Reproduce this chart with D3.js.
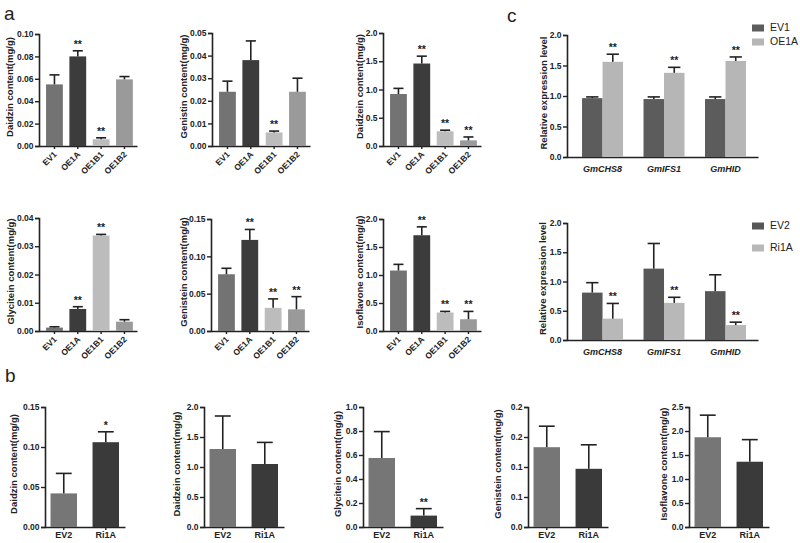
<!DOCTYPE html>
<html><head><meta charset="utf-8">
<script src="https://cdn.jsdelivr.net/npm/d3@7"></script>
<style>
body{margin:0;background:#fff;}
svg{display:block;}
text{font-family:"Liberation Sans",Arial,sans-serif;}
</style>
</head><body>
<svg id="chart" width="800" height="543"></svg>
<script>
// ---------------- DATA ----------------
// Panel a: overexpression lines
const aCategories = ["EV1", "OE1A", "OE1B1", "OE1B2"];
const daidzinA = [0.055, 0.080, 0.006, 0.0595];
const daidzinAErr = [0.0085, 0.005, 0.0013, 0.0025];
const daidzinASig = ["", "**", "**", ""];
const genistinA = [0.024, 0.038, 0.006, 0.024];
const genistinAErr = [0.0047, 0.0085, 0.0006, 0.006];
const genistinASig = ["", "", "**", ""];
const daidzeinA = [0.92, 1.46, 0.26, 0.10];
const daidzeinAErr = [0.10, 0.13, 0.02, 0.06];
const daidzeinASig = ["", "**", "**", "**"];
const glyciteinA = [0.0012, 0.0078, 0.0338, 0.0033];
const glyciteinAErr = [0.0003, 0.0008, 0.0004, 0.0007];
const glyciteinASig = ["", "**", "**", ""];
const genisteinA = [0.076, 0.122, 0.031, 0.029];
const genisteinAErr = [0.008, 0.014, 0.012, 0.017];
const genisteinASig = ["", "**", "**", "**"];
const isoflavoneA = [1.08, 1.71, 0.33, 0.21];
const isoflavoneAErr = [0.11, 0.15, 0.02, 0.14];
const isoflavoneASig = ["", "**", "**", "**"];

// Panel b: RNAi lines
const bCategories = ["EV2", "Ri1A"];
const daidzinB = [0.042, 0.106];
const daidzinBErr = [0.025, 0.013];
const daidzinBSig = ["", "*"];
const daidzeinB = [1.30, 1.05];
const daidzeinBErr = [0.55, 0.36];
const daidzeinBSig = ["", ""];
const glyciteinB = [0.575, 0.095];
const glyciteinBErr = [0.22, 0.058];
const glyciteinBSig = ["", "**"];
const genisteinB = [0.133, 0.097];
const genisteinBErr = [0.035, 0.040];
const genisteinBSig = ["", ""];
const isoflavoneB = [1.87, 1.36];
const isoflavoneBErr = [0.46, 0.46];
const isoflavoneBSig = ["", ""];

// Panel c: relative expression
const genes = ["GmCHS8", "GmIFS1", "GmHID"];
const cTopSeries = ["EV1", "OE1A"];
const cTopEV1 = [0.965, 0.95, 0.95];
const cTopEV1Err = [0.02, 0.035, 0.035];
const cTopOE1A = [1.56, 1.38, 1.575];
const cTopOE1AErr = [0.125, 0.09, 0.065];
const cTopSig = ["**", "**", "**"];
const cBotSeries = ["EV2", "Ri1A"];
const cBotEV2 = [0.81, 1.22, 0.835];
const cBotEV2Err = [0.17, 0.43, 0.28];
const cBotRi1A = [0.365, 0.635, 0.255];
const cBotRi1AErr = [0.26, 0.095, 0.05];
const cBotSig = ["**", "**", "**"];

// Tick values / labels
const ticksDaidzinA = [0, 0.02, 0.04, 0.06, 0.08, 0.10];
const labelsDaidzinA = ["0.00", "0.02", "0.04", "0.06", "0.08", "0.10"];
const ticksGenistinA = [0, 0.01, 0.02, 0.03, 0.04, 0.05];
const labelsGenistinA = ["0.00", "0.01", "0.02", "0.03", "0.04", "0.05"];
const ticks0to2 = [0, 0.5, 1.0, 1.5, 2.0];
const labels0to2 = ["0.0", "0.5", "1.0", "1.5", "2.0"];
const ticksGlyciteinA = [0, 0.01, 0.02, 0.03, 0.04];
const labelsGlyciteinA = ["0.00", "0.01", "0.02", "0.03", "0.04"];
const ticksGenisteinA = [0, 0.05, 0.10, 0.15];
const labelsGenisteinA = ["0.00", "0.05", "0.10", "0.15"];
const ticksDaidzinB = [0, 0.05, 0.10, 0.15];
const labelsDaidzinB = ["0.00", "0.05", "0.10", "0.15"];
const ticksGlyciteinB = [0, 0.2, 0.4, 0.6, 0.8, 1.0];
const labelsGlyciteinB = ["0.0", "0.2", "0.4", "0.6", "0.8", "1.0"];
const ticksGenisteinB = [0, 0.05, 0.10, 0.15, 0.20];
const labelsGenisteinB = ["0.0", "0.1", "0.1", "0.2", "0.2"];
const ticksIsoflavoneB = [0, 0.5, 1.0, 1.5, 2.0, 2.5];
const labelsIsoflavoneB = ["0.0", "0.5", "1.0", "1.5", "2.0", "2.5"];

// ---------------- STYLE ----------------
const colA = {"EV1": "#737373", "OE1A": "#3c3c3c", "OE1B1": "#bcbcbc", "OE1B2": "#9a9a9a"};
const colB = {"EV2": "#767676", "Ri1A": "#3a3a3a"};
const colC = {"EV1": "#5c5c5c", "OE1A": "#b6b6b6", "EV2": "#575757", "Ri1A": "#b8b8b8"};
const ink = "#222";

const svg = d3.select("#chart");

function yAxis(g, y, ticks, labels, x0) {
  const ax = d3.axisLeft(y).tickValues(ticks).tickFormat((d, i) => labels[i]).tickSize(4).tickPadding(1.5);
  const a = g.append("g").attr("transform", `translate(${x0},0)`).call(ax);
  a.select(".domain").attr("stroke", ink).attr("stroke-width", 1.6);
  a.selectAll(".tick line").attr("stroke", ink).attr("stroke-width", 1.4);
  a.selectAll(".tick text").attr("fill", ink).style("font-size", "8.5px").style("font-weight", "bold");
  return a;
}

function yTitle(g, text, tx, yTop, yBot) {
  g.append("text").attr("transform", `translate(${tx},${(yTop + yBot) / 2 - 3}) rotate(-90)`)
    .attr("text-anchor", "middle").attr("dominant-baseline", "middle")
    .style("font-size", "9.5px").style("font-weight", "bold").attr("fill", ink).text(text);
}

function drawBar(g, x, w, y, v, e, color, sig, y0) {
  const top = y(v), et = y(v + e);
  g.append("rect").attr("x", x).attr("y", top).attr("width", w).attr("height", y0 - top).attr("fill", color);
  const cx = x + w / 2;
  g.append("line").attr("x1", cx).attr("x2", cx).attr("y1", top).attr("y2", et).attr("stroke", ink).attr("stroke-width", 1.6);
  g.append("line").attr("x1", cx - w * 0.3).attr("x2", cx + w * 0.3).attr("y1", et).attr("y2", et).attr("stroke", ink).attr("stroke-width", 1.6);
  if (sig) {
    g.append("text").attr("x", cx).attr("y", et - 3).attr("text-anchor", "middle")
      .style("font-size", "10.5px").style("font-weight", "bold").attr("fill", ink).text(sig);
  }
}

// Panel a (4 bars, rotated labels)
function panelA(cfg) {
  const g = svg.append("g");
  const y = d3.scaleLinear().domain([0, cfg.max]).range([cfg.yBot, cfg.yTop]);
  const x = d3.scaleBand().domain(aCategories).range([cfg.x0, cfg.x0 + 98])
    .paddingInner(0.28).paddingOuter(0.24).align(0.63);
  const xa = g.append("g").attr("transform", `translate(0,${cfg.yBot})`)
    .call(d3.axisBottom(x).tickSize(3).tickSizeOuter(0));
  xa.select(".domain").attr("stroke", ink).attr("stroke-width", 1.6);
  xa.selectAll(".tick line").attr("stroke", ink).attr("stroke-width", 1.4);
  xa.selectAll(".tick text").attr("fill", ink).style("font-size", "8.5px").style("font-weight", "bold")
    .attr("text-anchor", "end").attr("dy", null).attr("y", 0)
    .attr("transform", "translate(3,9) rotate(-45)");
  aCategories.forEach((c, i) => drawBar(g, x(c), x.bandwidth(), y, cfg.vals[i], cfg.err[i], colA[c], cfg.sig[i], cfg.yBot));
  yAxis(g, y, cfg.ticks, cfg.labels, cfg.x0);
  yTitle(g, cfg.title, cfg.tx, cfg.yTop, cfg.yBot);
}

// Panel b (2 bars)
function panelB(cfg) {
  const g = svg.append("g");
  const y = d3.scaleLinear().domain([0, cfg.max]).range([cfg.yBot, cfg.yTop]);
  const x = d3.scaleBand().domain(bCategories).range([cfg.x0, cfg.x0 + 80])
    .paddingInner(0.37).paddingOuter(0.137).align(0.48);
  const xa = g.append("g").attr("transform", `translate(0,${cfg.yBot})`)
    .call(d3.axisBottom(x).tickSize(3).tickSizeOuter(0).tickPadding(2));
  xa.select(".domain").attr("stroke", ink).attr("stroke-width", 1.6);
  xa.selectAll(".tick line").attr("stroke", ink).attr("stroke-width", 1.4);
  xa.selectAll(".tick text").attr("fill", ink).style("font-size", "9px").style("font-weight", "bold");
  bCategories.forEach((c, i) => drawBar(g, x(c), x.bandwidth(), y, cfg.vals[i], cfg.err[i], colB[c], cfg.sig[i], cfg.yBot));
  yAxis(g, y, cfg.ticks, cfg.labels, cfg.x0);
  yTitle(g, cfg.title, cfg.tx, cfg.yTop, cfg.yBot);
}

// Panel c (grouped)
function panelC(cfg) {
  const g = svg.append("g");
  const y = d3.scaleLinear().domain([0, 2]).range([cfg.yBot, cfg.yTop]);
  const x = d3.scaleBand().domain(genes).range([cfg.x0, cfg.x0 + 191])
    .paddingInner(1 / 3).paddingOuter(0.22).align(0.556);
  const xs = d3.scaleBand().domain(cfg.series).range([0, x.bandwidth()]);
  const xa = g.append("g").attr("transform", `translate(0,${cfg.yBot})`)
    .call(d3.axisBottom(x).tickSize(0).tickSizeOuter(0).tickPadding(9));
  xa.select(".domain").attr("stroke", ink).attr("stroke-width", 1.6);
  xa.selectAll(".tick text").attr("fill", ink).style("font-size", "9px").style("font-weight", "bold").style("font-style", "italic");
  genes.forEach((gn, i) => {
    cfg.series.forEach((s, j) => {
      const v = cfg.vals[j][i], e = cfg.err[j][i];
      drawBar(g, x(gn) + xs(s), xs.bandwidth(), y, v, e, colC[s], j === 1 ? cfg.sig[i] : "", cfg.yBot);
    });
  });
  yAxis(g, y, ticks0to2, labels0to2, cfg.x0);
  yTitle(g, "Relative expression level", cfg.tx, cfg.yTop, cfg.yBot);
  // legend
  cfg.series.forEach((s, j) => {
    const ly = cfg.legY + j * cfg.legGap;
    g.append("rect").attr("x", 752).attr("y", ly - 3.5).attr("width", 12).attr("height", 7).attr("fill", colC[s]);
    g.append("text").attr("x", 770).attr("y", ly).attr("dominant-baseline", "middle")
      .style("font-size", "10.5px").attr("fill", ink).text(s);
  });
}

// Panel letters
svg.append("text").attr("x", 4).attr("y", 20).style("font-size", "19px").attr("fill", ink).text("a");
svg.append("text").attr("x", 507).attr("y", 22).style("font-size", "19px").attr("fill", ink).text("c");
svg.append("text").attr("x", 5).attr("y", 382).style("font-size", "19px").attr("fill", ink).text("b");

// Row a1
panelA({x0: 39, yTop: 34, yBot: 146, max: 0.10, ticks: ticksDaidzinA, labels: labelsDaidzinA,
  vals: daidzinA, err: daidzinAErr, sig: daidzinASig, title: "Daidzin content(mg/g)", tx: 10});
panelA({x0: 212, yTop: 33, yBot: 146, max: 0.05, ticks: ticksGenistinA, labels: labelsGenistinA,
  vals: genistinA, err: genistinAErr, sig: genistinASig, title: "Genistin content(mg/g)", tx: 184});
panelA({x0: 383, yTop: 33, yBot: 146, max: 2.0, ticks: ticks0to2, labels: labels0to2,
  vals: daidzeinA, err: daidzeinAErr, sig: daidzeinASig, title: "Daidzein content(mg/g)", tx: 360});
// Row a2
panelA({x0: 39, yTop: 218, yBot: 331, max: 0.04, ticks: ticksGlyciteinA, labels: labelsGlyciteinA,
  vals: glyciteinA, err: glyciteinAErr, sig: glyciteinASig, title: "Glycitein content(mg/g)", tx: 11});
panelA({x0: 211, yTop: 219, yBot: 331, max: 0.15, ticks: ticksGenisteinA, labels: labelsGenisteinA,
  vals: genisteinA, err: genisteinAErr, sig: genisteinASig, title: "Genistein content(mg/g)", tx: 184});
panelA({x0: 383, yTop: 219, yBot: 331, max: 2.0, ticks: ticks0to2, labels: labels0to2,
  vals: isoflavoneA, err: isoflavoneAErr, sig: isoflavoneASig, title: "Isoflavone content(mg/g)", tx: 360});

// Panel c
panelC({x0: 567, yTop: 35, yBot: 157, series: cTopSeries, vals: [cTopEV1, cTopOE1A], err: [cTopEV1Err, cTopOE1AErr],
  sig: cTopSig, tx: 544, legY: 28, legGap: 14});
panelC({x0: 567, yTop: 223, yBot: 340, series: cBotSeries, vals: [cBotEV2, cBotRi1A], err: [cBotEV2Err, cBotRi1AErr],
  sig: cBotSig, tx: 543, legY: 226, legGap: 22});

// Panel b
panelB({x0: 45, yTop: 407, yBot: 527, max: 0.15, ticks: ticksDaidzinB, labels: labelsDaidzinB,
  vals: daidzinB, err: daidzinBErr, sig: daidzinBSig, title: "Daidzin content(mg/g)", tx: 14});
panelB({x0: 204, yTop: 407, yBot: 527, max: 2.0, ticks: ticks0to2, labels: labels0to2,
  vals: daidzeinB, err: daidzeinBErr, sig: daidzeinBSig, title: "Daidzein content(mg/g)", tx: 177});
panelB({x0: 363, yTop: 407, yBot: 527, max: 1.0, ticks: ticksGlyciteinB, labels: labelsGlyciteinB,
  vals: glyciteinB, err: glyciteinBErr, sig: glyciteinBSig, title: "Glycitein content(mg/g)", tx: 338});
panelB({x0: 528, yTop: 407, yBot: 527, max: 0.2, ticks: ticksGenisteinB, labels: labelsGenisteinB,
  vals: genisteinB, err: genisteinBErr, sig: genisteinBSig, title: "Genistein content(mg/g)", tx: 498});
panelB({x0: 689, yTop: 407, yBot: 527, max: 2.5, ticks: ticksIsoflavoneB, labels: labelsIsoflavoneB,
  vals: isoflavoneB, err: isoflavoneBErr, sig: isoflavoneBSig, title: "Isoflavone content(mg/g)", tx: 664});
</script>
</body></html>
